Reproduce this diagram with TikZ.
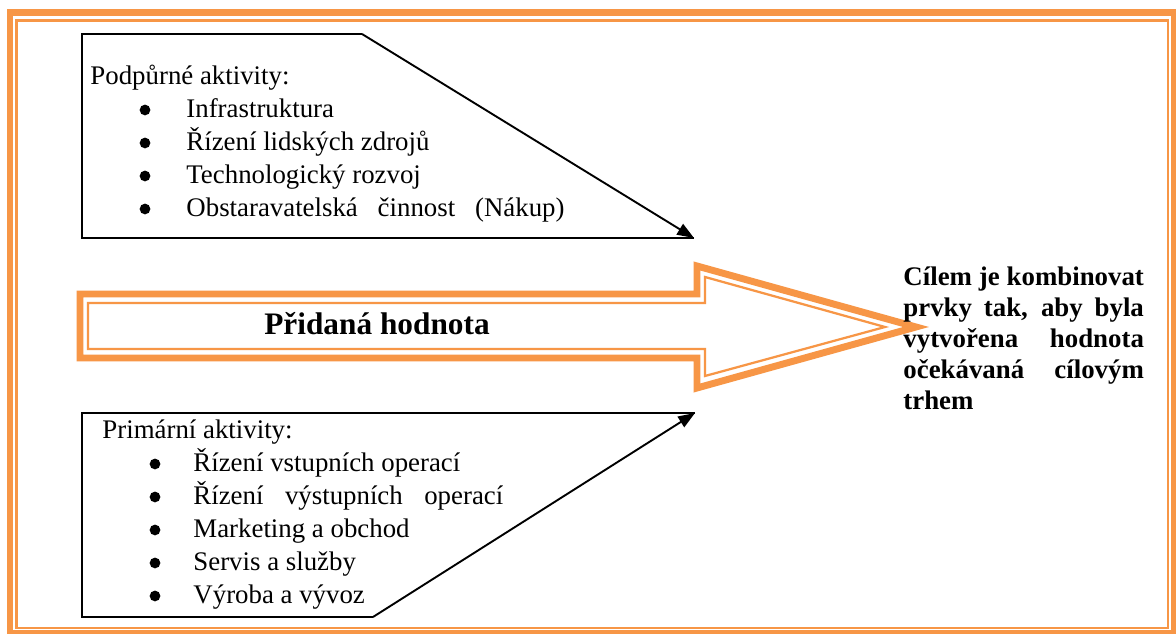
\documentclass[tikz,border=0pt]{standalone}
\usepackage{fontspec}
\setmainfont{Liberation Serif}
\usepackage{xcolor}
\usepackage{tikz}
\usetikzlibrary{arrows.meta}
\definecolor{accent}{HTML}{F79646}
\tikzset{
  band/.style={draw=accent, line width=3.1pt, line join=miter},
  rim/.style={draw=accent, line width=1.0pt, line join=miter},
  panel/.style={draw=black, line width=0.85pt, line join=miter},
  pointer/.style={panel, -{Triangle[length=7.5pt, width=5.5pt]}},
  heading/.style={font=\fontsize{12}{14}\selectfont, anchor=base west, inner sep=0pt},
  item/.style={font=\fontsize{12}{14}\selectfont, anchor=base west, inner sep=0pt},
  dot/.style={circle, fill=black, inner sep=0pt, minimum size=4.8pt},
  caption/.style={font=\fontsize{14}{16}\selectfont\bfseries, anchor=base, inner sep=0pt},
  goal/.style={
    font=\fontsize{12}{13.9}\selectfont\bfseries,
    align=justify,
    text width=107.5pt,
    anchor=north west,
    inner sep=0pt
  }
}
\newcommand{\activity}[5]{%
  \node[dot] (#1dot) at (#2,#4-8) {};
  \node[item] (#1) at (#3,#4) {#5};
}

\begin{document}
\begin{tikzpicture}[x=0.447pt,y=-0.447pt]
\useasboundingbox (0,0) rectangle (1176,634);
\fill[white] (0,0) rectangle (1176,634);

\draw[band] (10,12.5) rectangle (1174.5,633);
\draw[rim] (16.5,20.5) rectangle (1168,628);

\coordinate (suptl) at (82,34);
\coordinate (supcorner) at (362,34);
\coordinate (supbl) at (82,238);
\coordinate (suptip) at (694,238);
\draw[panel] (suptip) -- (supbl) -- (suptl) -- (supcorner);
\draw[pointer] (supcorner) -- (suptip);

\node[heading] (support) at (90,85) {Podpůrné aktivity:};
\activity{infra}{145}{186}{118}{Infrastruktura}
\activity{hr}{145}{186}{151}{Řízení lidských zdrojů}
\activity{tech}{145}{186}{184}{Technologický rozvoj}
\activity{buy}{145}{186}{217}{\makebox[169pt][s]{Obstaravatelská činnost (Nákup)}}

\draw[band] (80,294) -- (697,294) -- (697,266) -- (916,327) -- (697,388) -- (697,358) -- (80,358) -- cycle;
\draw[rim] (88,303) -- (705,303) -- (705,277) -- (885,327) -- (705,376) -- (705,349) -- (88,349) -- cycle;
\node[caption] (value) at (377,335) {Přidaná hodnota};

\coordinate (primtl) at (82,413);
\coordinate (primtip) at (695,413);
\coordinate (primbl) at (82,617);
\coordinate (primcorner) at (373,617);
\draw[panel] (primtip) -- (primtl) -- (primbl) -- (primcorner);
\draw[pointer] (primcorner) -- (primtip);

\node[heading] (primary) at (102,439) {Primární aktivity:};
\activity{inbound}{155}{193}{472}{Řízení vstupních operací}
\activity{outbound}{155}{193}{505}{\makebox[138.5pt][s]{Řízení výstupních operací}}
\activity{sales}{155}{193}{538}{Marketing a obchod}
\activity{service}{155}{193}{571}{Servis a služby}
\activity{make}{155}{193}{604}{Výroba a vývoz}

\node[goal] (aim) at (903,266)
  {Cílem je kombinovat\linebreak prvky tak, aby byla\linebreak vytvořena hodnota\linebreak očekávaná cílovým\linebreak trhem};
\end{tikzpicture}
\end{document}
